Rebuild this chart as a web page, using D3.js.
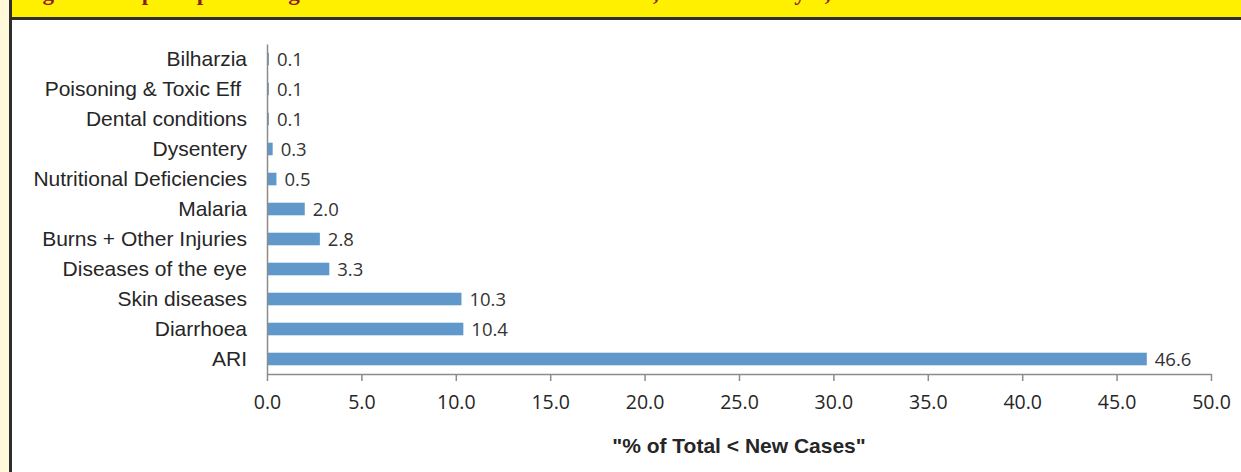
<!DOCTYPE html>
<html>
<head>
<meta charset="utf-8">
<script src="https://cdn.jsdelivr.net/npm/d3@7"></script>
<style>
  html, body { margin: 0; padding: 0; background: #fff; }
  svg { display: block; }
  text { white-space: pre; }
</style>
</head>
<body>
<svg id="chart" width="1241" height="472"></svg>
<script>
const categories = ["Bilharzia", "Poisoning & Toxic Eff ", "Dental conditions", "Dysentery",
  "Nutritional Deficiencies", "Malaria", "Burns + Other Injuries", "Diseases of the eye",
  "Skin diseases", "Diarrhoea", "ARI"];
const values = [0.1, 0.1, 0.1, 0.3, 0.5, 2.0, 2.8, 3.3, 10.3, 10.4, 46.6];
const xTicks = [0, 5, 10, 15, 20, 25, 30, 35, 40, 45, 50];
const axisTitle = "\"% of Total < New Cases\"";
const titleText = "Figure 4: Top ten presenting conditions as % of Total New Cases, Children < 5 yrs, 2012";

const svg = d3.select("#chart");
const W = 1241, H = 472;

// Frame: cream strip, dark border, yellow banner
svg.append("rect").attr("x", 0).attr("y", 0).attr("width", 9).attr("height", H).attr("fill", "#FFF9D9");
svg.append("rect").attr("x", 9).attr("y", 0).attr("width", 3).attr("height", H).attr("fill", "#2E2E2E");
svg.append("rect").attr("x", 12).attr("y", 0).attr("width", W - 12).attr("height", 17).attr("fill", "#FFF000");
svg.append("text").attr("x", 22).attr("y", 0)
  .attr("font-family", "Liberation Serif, serif").attr("font-weight", "bold")
  .attr("font-size", 23).attr("fill", "#8E1B2A").text(titleText);
svg.append("rect").attr("x", 12).attr("y", 17).attr("width", W - 12).attr("height", 3).attr("fill", "#2E2E2E");

const x = d3.scaleLinear().domain([0, 50]).range([267, 1211]);
const y = d3.scaleBand().domain(categories).range([44, 374]).paddingInner(0.58).paddingOuter(0.29);

const axisColor = "#8C8C8C";

// bars
svg.append("g").selectAll("rect").data(values).join("rect")
  .attr("x", x(0))
  .attr("y", (d, i) => y(categories[i]))
  .attr("width", d => x(d) - x(0))
  .attr("height", y.bandwidth())
  .attr("fill", "#6098CB");

// value labels
svg.append("g").selectAll("text").data(values).join("text")
  .attr("x", d => x(d) + 8)
  .attr("y", (d, i) => y(categories[i]) + y.bandwidth() / 2)
  .attr("dy", "0.36em")
  .attr("font-family", "Open Sans, sans-serif")
  .attr("font-size", 18.5)
  .attr("fill", "#333")
  .text(d => d.toFixed(1));

// y axis
const yAxis = svg.append("g").attr("transform", `translate(${x(0)},0)`)
  .call(d3.axisLeft(y).tickSize(0).tickPadding(20).tickSizeOuter(0));
yAxis.select(".domain").attr("stroke", axisColor).attr("stroke-width", 1.5);
yAxis.selectAll("text").attr("font-family", "Liberation Sans, Arial, sans-serif")
  .attr("font-size", 21).attr("fill", "#262626");

// x axis
const xAxis = svg.append("g").attr("transform", "translate(0,374)")
  .call(d3.axisBottom(x).tickValues(xTicks).tickFormat(d3.format(".1f")).tickSize(7).tickSizeOuter(0).tickPadding(14));
xAxis.select(".domain").attr("stroke", axisColor).attr("stroke-width", 1.5);
xAxis.selectAll(".tick line").attr("stroke", axisColor).attr("stroke-width", 1.5);
xAxis.selectAll("text").attr("font-family", "Open Sans, sans-serif")
  .attr("font-size", 19.5).attr("fill", "#262626");

// axis title
svg.append("text").attr("x", (x(0) + x(50)) / 2).attr("y", 453)
  .attr("text-anchor", "middle")
  .attr("font-family", "Liberation Sans, Arial, sans-serif").attr("font-weight", "bold")
  .attr("font-size", 21).attr("fill", "#262626").text(axisTitle);
</script>
</body>
</html>
